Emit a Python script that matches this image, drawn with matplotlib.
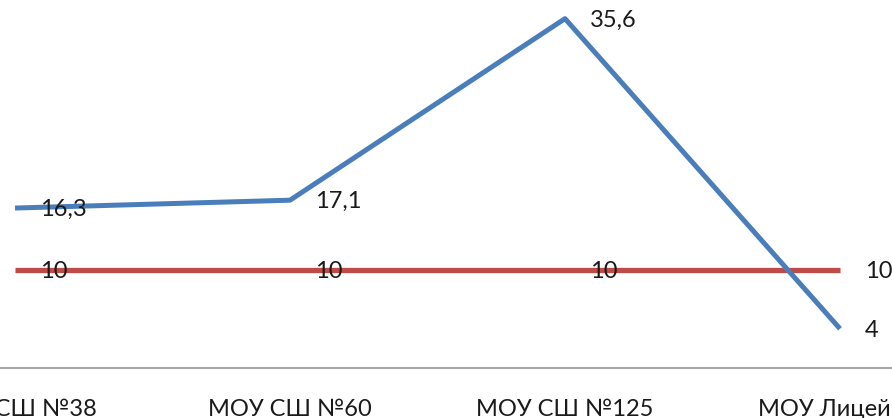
import matplotlib
matplotlib.use("Agg")
import matplotlib.pyplot as plt
import matplotlib.transforms as mtransforms

categories = ["МОУ СШ №38", "МОУ СШ №60", "МОУ СШ №125", "МОУ Лицей"]
series_school = [16.3, 17.1, 35.6, 4]
series_region = [10, 10, 10, 10]
labels_school = ["16,3", "17,1", "35,6", "4"]
labels_region = ["10", "10", "10", "10"]

plt.rcParams['font.family'] = ['Lato', 'Open Sans', 'DejaVu Sans']

fig = plt.figure(figsize=(8.92, 4.18), dpi=100)
ax = fig.add_axes([0, 1 - 368 / 418, 1, 368 / 418])

x = list(range(len(categories)))
blue = "#4A7EBB"
red = "#BE4B48"
ax.plot(x, series_region, color=red, lw=3.8, solid_capstyle='butt', zorder=2)
ax.plot(x, series_school, color=blue, lw=3.6, solid_capstyle='butt', zorder=3)

fs = 17
for xi, v, t in zip(x, series_school, labels_school):
    ax.annotate(t, (xi, v), xytext=(18, -1), textcoords='offset points',
                ha='left', va='center', fontsize=fs, color='#1a1a1a', zorder=5)
for xi, v, t in zip(x, series_region, labels_region):
    ax.annotate(t, (xi, v), xytext=(18, -1), textcoords='offset points',
                ha='left', va='center', fontsize=fs, color='#1a1a1a', zorder=5)

ax.set_xlim(-15 / 275, 877 / 275)
ax.set_ylim(0, 37.5)
ax.set_xticks(x)
ax.set_xticklabels(categories, fontsize=fs, color='#1a1a1a')
ax.tick_params(axis='x', length=0, pad=22)
ax.set_yticks([])
for s in ['top', 'left', 'right']:
    ax.spines[s].set_visible(False)
ax.spines['bottom'].set_color('#A6A6A6')
ax.spines['bottom'].set_linewidth(1.5)

lbl = ax.get_xticklabels()[-1]
lbl.set_transform(lbl.get_transform() + mtransforms.ScaledTranslation(-16 / 100, 0, fig.dpi_scale_trans))

fig.savefig("out.png", dpi=100)
